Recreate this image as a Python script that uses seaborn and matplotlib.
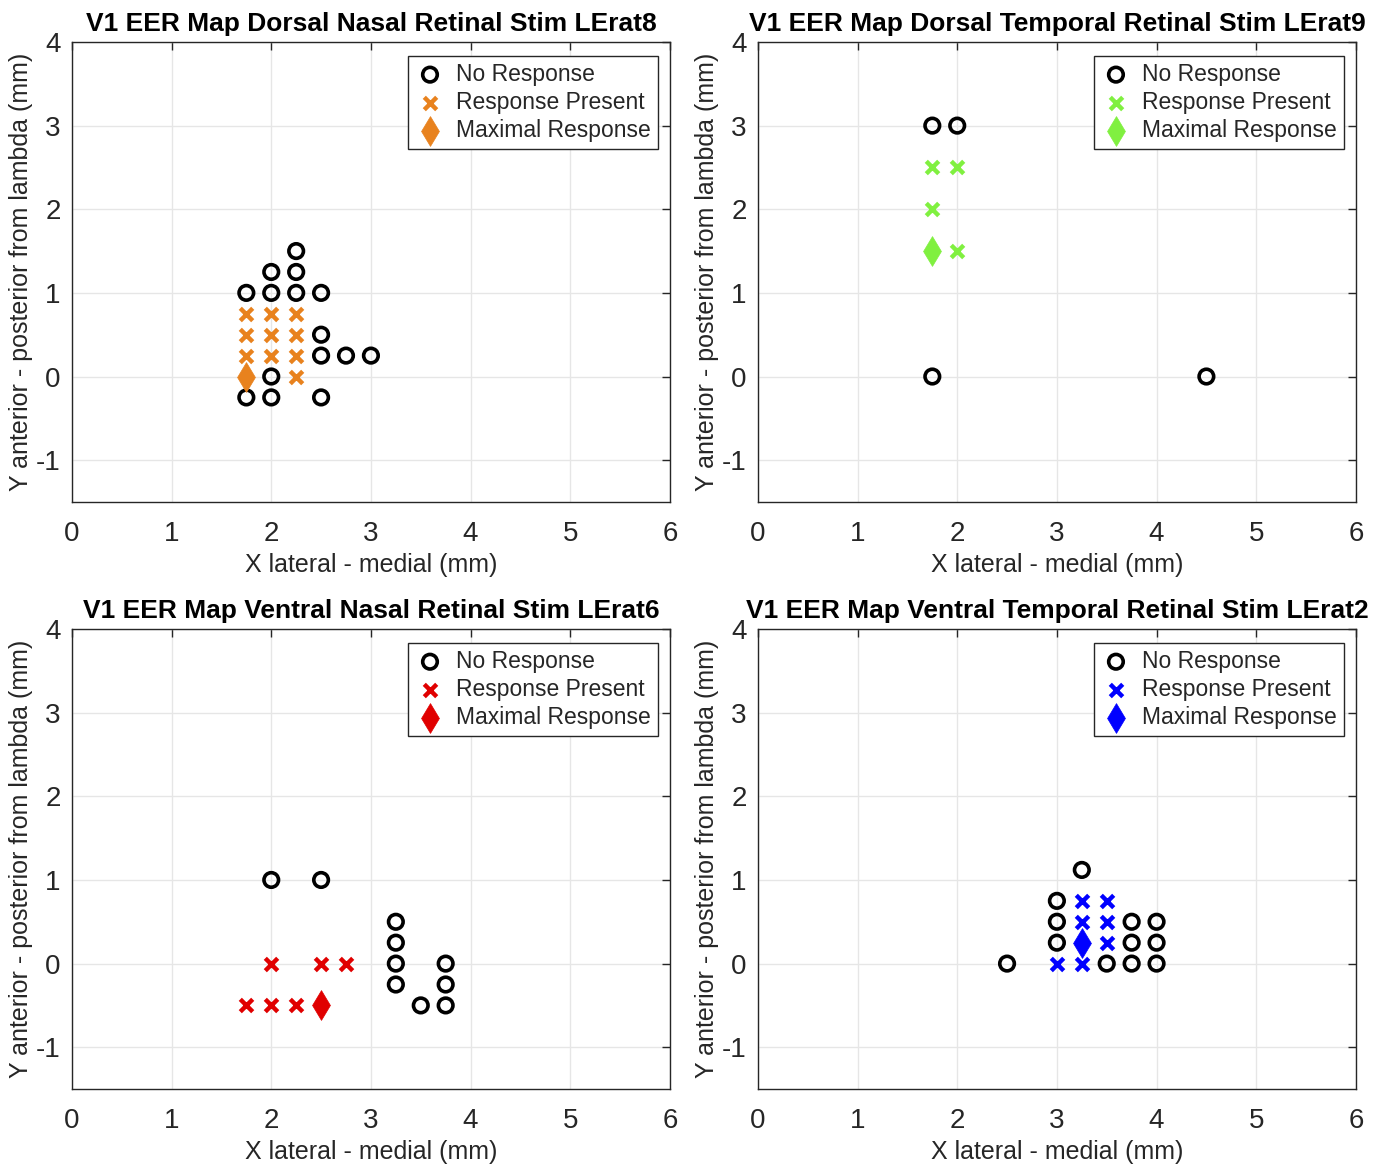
import matplotlib
matplotlib.use("Agg")
import matplotlib.pyplot as plt
import seaborn as sns
import pandas as pd

# === Data ===
titles = [
    "V1 EER Map Dorsal Nasal Retinal Stim LErat8",
    "V1 EER Map Dorsal Temporal Retinal Stim LErat9",
    "V1 EER Map Ventral Nasal Retinal Stim LErat6",
    "V1 EER Map Ventral Temporal Retinal Stim LErat2",
]
colors = ["#E8821E", "#80F040", "#E00000", "#0000FF"]

# LErat8 dorsal nasal
none_x_1 = [2.25, 2, 2.25, 1.75, 2, 2.25, 2.5, 2.5, 2.5, 2.75, 3, 2, 1.75, 2, 2.5]
none_y_1 = [1.5, 1.25, 1.25, 1, 1, 1, 1, 0.5, 0.25, 0.25, 0.25, 0, -0.25, -0.25, -0.25]
resp_x_1 = [1.75, 2, 2.25, 1.75, 2, 2.25, 1.75, 2, 2.25, 2.25]
resp_y_1 = [0.75, 0.75, 0.75, 0.5, 0.5, 0.5, 0.25, 0.25, 0.25, 0]
max_x_1, max_y_1 = [1.75], [0]

# LErat9 dorsal temporal
none_x_2 = [1.75, 2, 1.75, 4.5]
none_y_2 = [3, 3, 0, 0]
resp_x_2 = [1.75, 2, 1.75, 2]
resp_y_2 = [2.5, 2.5, 2, 1.5]
max_x_2, max_y_2 = [1.75], [1.5]

# LErat6 ventral nasal
none_x_3 = [2, 2.5, 3.25, 3.25, 3.25, 3.25, 3.75, 3.75, 3.5, 3.75]
none_y_3 = [1, 1, 0.5, 0.25, 0, -0.25, 0, -0.25, -0.5, -0.5]
resp_x_3 = [2, 2.5, 2.75, 1.75, 2, 2.25]
resp_y_3 = [0, 0, 0, -0.5, -0.5, -0.5]
max_x_3, max_y_3 = [2.5], [-0.5]

# LErat2 ventral temporal
none_x_4 = [3.25, 3, 3, 3, 2.5, 3.5, 3.75, 4, 3.75, 4, 3.75, 4]
none_y_4 = [1.12, 0.75, 0.5, 0.25, 0, 0, 0, 0, 0.5, 0.5, 0.25, 0.25]
resp_x_4 = [3.25, 3.5, 3.25, 3.5, 3.5, 3, 3.25]
resp_y_4 = [0.75, 0.75, 0.5, 0.5, 0.25, 0, 0]
max_x_4, max_y_4 = [3.25], [0.25]

panels = [
    (none_x_1, none_y_1, resp_x_1, resp_y_1, max_x_1, max_y_1),
    (none_x_2, none_y_2, resp_x_2, resp_y_2, max_x_2, max_y_2),
    (none_x_3, none_y_3, resp_x_3, resp_y_3, max_x_3, max_y_3),
    (none_x_4, none_y_4, resp_x_4, resp_y_4, max_x_4, max_y_4),
]

# === Setup ===
sns.set_theme(style="whitegrid")
plt.rcParams["font.family"] = ["Liberation Sans", "DejaVu Sans"]
plt.rcParams["axes.unicode_minus"] = False

fig = plt.figure(figsize=(13.83, 11.66), dpi=100)
positions = [
    [0.052, 0.5695, 0.4324, 0.3945],
    [0.548, 0.5695, 0.4324, 0.3945],
    [0.052, 0.066, 0.4324, 0.3945],
    [0.548, 0.066, 0.4324, 0.3945],
]

for i, (nx, ny, rx, ry, mx, my) in enumerate(panels):
    ax = fig.add_axes(positions[i])
    col = colors[i]
    sns.scatterplot(x=nx, y=ny, marker="o", s=110, facecolors="none",
                    edgecolor="black", linewidth=2.6, ax=ax, label="No Response", zorder=3)
    sns.scatterplot(x=rx, y=ry, marker="x", s=80, color=col,
                    linewidth=3.2, ax=ax, label="Response Present", zorder=3)
    sns.scatterplot(x=mx, y=my, marker="d", s=230, color=col,
                    edgecolor=col, linewidth=0.5, ax=ax, label="Maximal Response", zorder=4)

    ax.set_xlim(0, 6)
    ax.set_ylim(-1.5, 4)
    ax.set_xticks(range(0, 7))
    ax.set_yticks(range(-1, 5))
    ax.set_facecolor("white")
    ax.grid(True, color="#E6E6E6", linewidth=1)
    for sp in ax.spines.values():
        sp.set_color("#262626")
        sp.set_linewidth(1)
        sp.set_visible(True)
    ax.tick_params(direction="in", length=6, width=1, colors="#262626",
                   labelsize=20, top=True, right=True, pad=8,
                   labelcolor="#262626")
    ax.tick_params(axis="x", pad=14)
    ax.set_xlabel("X lateral - medial (mm)", fontsize=18, color="#262626", labelpad=4)
    ax.set_ylabel("Y anterior - posterior from lambda (mm)", fontsize=18,
                  color="#262626", labelpad=2)
    ax.set_title(titles[i], fontsize=19, fontweight="bold", color="black", pad=8)

    leg = ax.legend(loc="upper right", fontsize=16.5, frameon=True, fancybox=False,
                    borderpad=0.3, labelspacing=0.22, handletextpad=0.5,
                    handlelength=1.3, markerscale=1.0,
                    bbox_to_anchor=(0.98, 0.97), borderaxespad=0)
    leg.get_frame().set_edgecolor("#262626")
    leg.get_frame().set_linewidth(1)
    leg.get_frame().set_alpha(1)

plt.savefig("out.png", dpi=100)
plt.close()
